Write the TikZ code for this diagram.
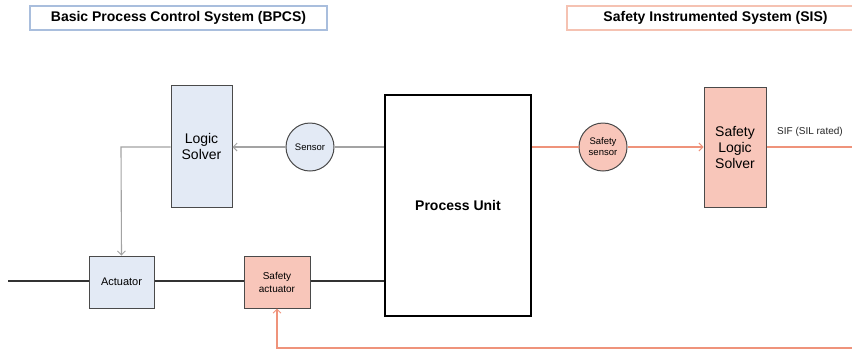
\documentclass[tikz,border=0pt]{standalone}
\usepackage{fontspec}
\setmainfont{Liberation Sans}
\usetikzlibrary{arrows.meta}
\definecolor{bpcsfill}{HTML}{E3EAF5}
\definecolor{bpcsedge}{HTML}{A9BEDD}
\definecolor{sisfill}{HTML}{F8C6BA}
\definecolor{sisedge}{HTML}{F5C2B2}
\definecolor{sisline}{HTML}{EF937B}
\definecolor{graylink}{HTML}{A3A3A3}
\definecolor{boxedge}{HTML}{4A4A4A}
\definecolor{mainline}{HTML}{333333}
\tikzset{
  titlebox/.style={draw=#1, line width=2pt, fill=white, inner sep=0pt, font=\fontsize{14}{16}\selectfont\bfseries},
  blockbox/.style={draw=boxedge, line width=1pt, fill=#1, inner sep=0pt, align=center},
  roundsensor/.style={circle, draw=boxedge, line width=1pt, fill=#1, inner sep=0pt, minimum size=48pt, align=center, font=\fontsize{9.5}{11}\selectfont},
  graylinkst/.style={draw=graylink, line width=1.1pt},
  sisst/.style={draw=sisline, line width=1.5pt},
  tip/.style={-{Straight Barb[length=4pt,width=8pt,line width=0.9pt]}},
  procline/.style={draw=mainline, line width=2pt}
}
\begin{document}
\begin{tikzpicture}[x=1pt,y=-1pt]
\useasboundingbox (0,0) rectangle (852,349);
\clip (0,0) rectangle (852,349);
% titles
\node[titlebox=bpcsedge, minimum width=297pt, minimum height=24pt] (tb) at (178.5,18) {Basic Process Control System (BPCS)};
\node[titlebox=sisedge, minimum width=297pt, minimum height=24pt] (ts) at (715.5,18) {Safety Instrumented System (SIS)};
% blocks
\node[blockbox=bpcsfill, minimum width=61pt, minimum height=122pt, font=\fontsize{14}{16}\selectfont] (ls) at (201.5,146) {Logic\\Solver};
\node[roundsensor=bpcsfill] (sen) at (310,147) {Sensor};
\node[draw=black, line width=2pt, fill=white, minimum width=146pt, minimum height=221pt, inner sep=0pt, font=\fontsize{14}{16}\selectfont\bfseries] (pu) at (458,205.5) {Process Unit};
\node[roundsensor=sisfill] (ssen) at (603,147) {Safety\\sensor};
\node[blockbox=sisfill, minimum width=62pt, minimum height=120pt, font=\fontsize{14}{16}\selectfont] (sls) at (735,147) {Safety\\Logic\\Solver};
\node[blockbox=bpcsfill, minimum width=65pt, minimum height=52pt, font=\fontsize{11}{13}\selectfont] (act) at (121.5,282) {Actuator};
\node[blockbox=sisfill, minimum width=66pt, minimum height=52pt, font=\fontsize{10}{13}\selectfont] (sact) at (277,282) {Safety\\actuator};
\node[anchor=west, inner sep=0pt, font=\fontsize{10}{12}\selectfont, text=black!85] (sif) at (777,132) {SIF (SIL rated)};
% coordinates
\coordinate (pin) at (8,281);
\coordinate (lsbend) at (121,147);
\coordinate (rtop) at (862,147);
\coordinate (rbot) at (862,348);
\coordinate (abot) at (277,348);
% process line
\draw[procline] (pin) -- (act.west |- pin);
\draw[procline] (act.east |- pin) -- (sact.west |- pin);
\draw[procline] (sact.east |- pin) -- (pu.west |- pin);
% BPCS loop
\draw[graylinkst] (pu.west |- sen) -- (sen.east);
\draw[graylinkst, tip] (sen.west) -- (ls.east |- sen);
\draw[graylinkst, tip] (ls.west |- lsbend) -- (lsbend) -- (act.north);
% SIS loop
\draw[sisst] (pu.east |- ssen) -- (ssen.west);
\draw[sisst, tip] (ssen.east) -- (sls.west |- ssen);
\draw[sisst, tip] (sls.east |- rtop) -- (rtop) -- (rbot) -- (abot) -- (sact.south);
\end{tikzpicture}
\end{document}
